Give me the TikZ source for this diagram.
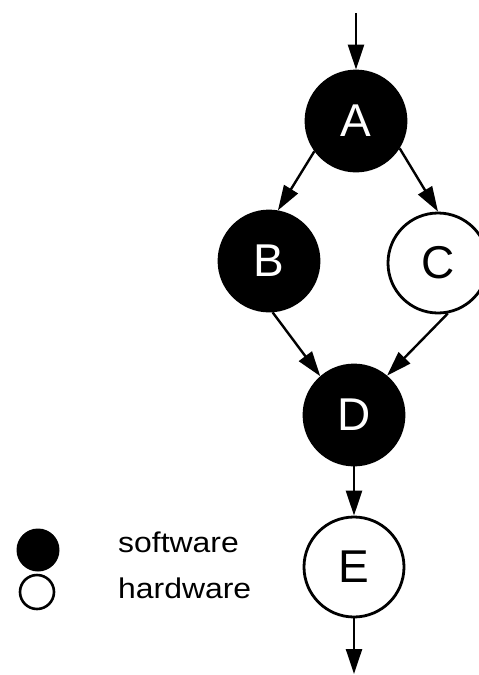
\documentclass[tikz,border=0pt]{standalone}
\usepackage{fontspec}
\setmainfont{Liberation Sans}
\newfontfamily\legendfont[FakeStretch=1.12]{Liberation Sans}
\usetikzlibrary{arrows.meta}
\tikzset{
  task/.style={circle, draw=black, line width=2.8pt, minimum size=100pt, inner sep=0pt,
    font=\fontsize{46}{46}\selectfont},
  sw/.style={task, fill=black, text=white},
  hw/.style={task, fill=white, text=black},
  flow/.style={line width=2.4pt, -{Triangle[length=25pt,width=16pt]}},
  legendtext/.style={anchor=base west, inner sep=0pt, font=\legendfont\fontsize{28.5}{28.5}\selectfont}
}
\begin{document}
\begin{tikzpicture}[x=1pt, y=-1pt]
  \useasboundingbox (0,0) rectangle (479,675);
  \clip (0,0) rectangle (479,675);

  % task graph
  \node[sw] (A) at (356,121) {A};
  \node[sw] (B) at (269,261) {B};
  \node[hw] (C) at (438,263) {C};
  \node[sw] (D) at (354,415) {D};
  \node[hw] (E) at (354,567) {E};

  \coordinate (in)  at (356,13);
  \coordinate (out) at (354,674);

  \draw[flow] (in) -- (A.north);
  \draw[flow] (A.216) -- (B.80);
  \draw[flow] (A.328) -- (C.90);
  \draw[flow] (B.274) -- (D.131);
  \draw[flow] (C.281) -- (D.50);
  \draw[flow] (D.south) -- (E.north);
  \draw[flow] (E.south) -- (out);

  % legend
  \node[circle, fill=black, minimum size=43pt, inner sep=0pt] (swkey) at (38,550) {};
  \node[circle, draw=black, fill=white, line width=2.6pt, minimum size=34pt, inner sep=0pt] (hwkey) at (37,592) {};
  \node[legendtext] (swlabel) at (118,552) {software};
  \node[legendtext] (hwlabel) at (118,598) {hardware};
\end{tikzpicture}
\end{document}
